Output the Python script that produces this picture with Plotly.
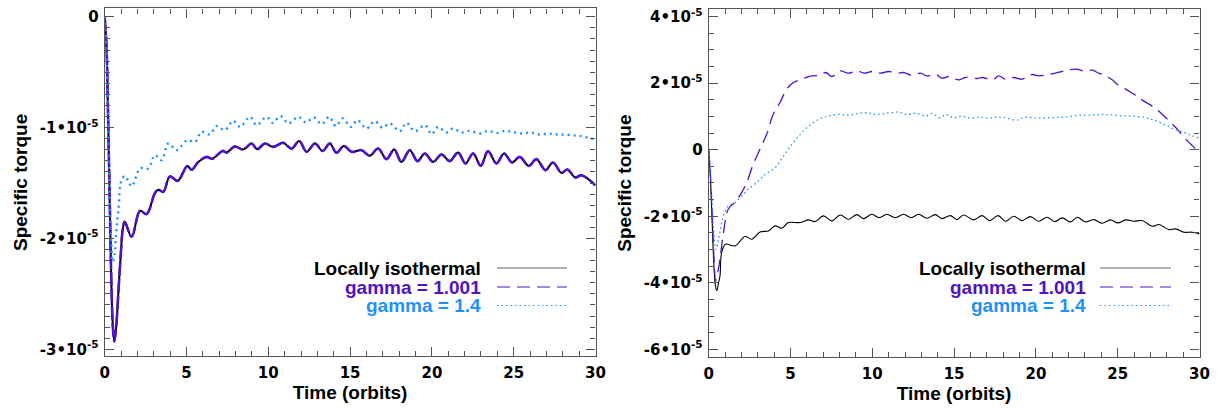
import plotly.graph_objects as go

# Specific torque in units of 1e-5, time in orbits

# left panel
iso_left_t = [0, 0.12, 0.2, 0.3, 0.4, 0.5, 0.59, 0.7, 0.85, 1.0, 1.1, 1.22, 1.65, 2.16, 2.56, 3.07, 3.28, 3.58,
              3.99, 4.46, 5.05, 5.31, 5.72, 6.23, 6.58, 7.21, 7.45, 7.96, 8.47, 8.98, 9.32, 9.79, 10.3, 10.91,
              11.42, 11.89, 12.34, 12.85, 13.32, 13.76, 14.17, 14.62, 15.09, 15.7, 16.2, 16.71, 17.23, 17.69,
              18.14, 18.65, 19.12, 19.57, 20.07, 20.59, 21.09, 21.6, 22.05, 22.52, 22.99, 23.43, 23.95, 24.41,
              24.9, 25.37, 25.92, 26.39, 26.94, 27.4, 27.92, 28.28, 28.77, 29.14, 30.0]
iso_left_y = [0, -0.30, -0.85, -1.6, -2.35, -2.8, -2.93, -2.8, -2.45, -2.1, -1.92, -1.85, -1.985, -1.75, -1.78,
              -1.59, -1.56, -1.58, -1.44, -1.48, -1.345, -1.38, -1.31, -1.264, -1.28, -1.21, -1.225, -1.17,
              -1.197, -1.143, -1.194, -1.143, -1.173, -1.137, -1.19, -1.12, -1.218, -1.143, -1.21, -1.143,
              -1.227, -1.165, -1.218, -1.203, -1.254, -1.188, -1.284, -1.197, -1.309, -1.203, -1.302, -1.233,
              -1.309, -1.242, -1.302, -1.224, -1.323, -1.233, -1.345, -1.212, -1.323, -1.233, -1.314, -1.264,
              -1.345, -1.284, -1.384, -1.314, -1.408, -1.377, -1.45, -1.429, -1.52]

# gamma = 1.001 lies on top of the locally isothermal curve
g1001_left_t = list(iso_left_t)
g1001_left_y = list(iso_left_y)

g14_left_t = [0, 0.1, 0.2, 0.3, 0.4, 0.5, 0.6, 0.7, 0.83, 1.04, 1.24, 1.65, 2.16, 2.66, 3.07, 3.48, 3.89, 4.4,
              5.05, 5.52, 5.92, 6.43, 6.84, 7.35, 7.86, 8.27, 8.88, 9.28, 9.9, 10.26, 10.75, 11.22, 11.83, 12.3,
              12.79, 13.26, 13.72, 14.13, 14.55, 15.05, 15.45, 16.0, 16.51, 16.98, 17.43, 18.04, 18.45, 18.96,
              19.57, 19.98, 20.38, 20.89, 21.3, 21.81, 22.32, 22.93, 23.43, 23.95, 24.46, 24.97, 25.47, 26.08,
              26.59, 27.1, 27.5, 27.9, 28.53, 29.14, 29.75, 30.0]
g14_left_y = [0, -0.3, -0.9, -1.6, -2.05, -2.21, -2.15, -1.95, -1.75, -1.47, -1.437, -1.528, -1.368, -1.368,
              -1.248, -1.293, -1.143, -1.203, -1.113, -1.128, -1.038, -1.06, -0.986, -1.022, -0.938, -0.993,
              -0.903, -0.977, -0.903, -0.957, -0.896, -0.962, -0.903, -0.953, -0.908, -0.968, -0.903, -0.986,
              -0.917, -0.993, -0.932, -1.007, -0.941, -1.0, -0.962, -1.032, -0.957, -1.032, -0.977, -1.059,
              -0.993, -1.044, -1.007, -1.044, -1.029, -1.053, -1.029, -1.047, -1.029, -1.04, -1.053, -1.044,
              -1.062, -1.053, -1.06, -1.062, -1.068, -1.077, -1.098, -1.105]

# right panel
iso_right_t = [0, 0.1, 0.2, 0.3, 0.4, 0.49, 0.6, 0.69, 0.79, 1.02, 1.61, 2.22, 2.63, 3.14, 3.65, 4.06, 4.47,
               4.87, 5.59, 6.1, 6.5, 7.01, 7.53, 8.04, 8.54, 9.06, 9.46, 9.97, 10.42, 10.89, 11.4, 11.91, 12.38,
               12.83, 13.34, 13.85, 14.26, 14.77, 15.18, 15.58, 16.2, 16.71, 17.17, 17.69, 18.14, 18.64, 19.15,
               19.66, 20.17, 20.68, 21.15, 21.61, 22.12, 22.52, 23.03, 23.54, 24.05, 24.56, 25.01, 25.48, 25.99,
               26.5, 27.11, 27.52, 28.13, 28.54, 29.05, 29.56, 30.0]
iso_right_y = [0, -0.8, -2.0, -3.3, -4.05, -4.24, -4.0, -3.79, -3.09, -2.84, -2.89, -2.61, -2.69, -2.47, -2.44,
               -2.29, -2.36, -2.19, -2.19, -2.11, -2.16, -1.99, -2.14, -1.96, -2.09, -1.95, -2.07, -1.94, -2.04,
               -1.94, -2.04, -1.94, -2.04, -1.94, -2.06, -1.95, -2.07, -1.98, -2.1, -1.96, -2.11, -1.98, -2.13,
               -1.98, -2.15, -2.0, -2.13, -2.01, -2.15, -2.03, -2.16, -2.05, -2.17, -2.03, -2.17, -2.1, -2.21,
               -2.11, -2.2, -2.11, -2.15, -2.13, -2.3, -2.25, -2.4, -2.38, -2.48, -2.48, -2.53]

g1001_right_t = [0, 0.1, 0.2, 0.3, 0.43, 0.55, 0.69, 0.89, 1.2, 1.61, 2.02, 2.33, 2.73, 3.14, 3.55, 3.95, 4.36,
                 4.77, 5.18, 5.69, 6.3, 6.81, 7.16, 7.53, 8.04, 8.54, 9.06, 9.52, 9.97, 10.48, 10.99, 11.5, 11.91,
                 12.42, 12.93, 13.34, 13.85, 14.26, 14.72, 15.28, 15.68, 16.4, 16.71, 17.38, 17.72, 18.14, 18.64,
                 19.15, 19.76, 20.17, 20.78, 21.5, 22.01, 22.52, 22.93, 23.44, 23.84, 24.25, 24.66, 24.97, 25.48,
                 26.09, 26.6, 27.11, 27.62, 28.13, 28.64, 29.05, 29.46, 29.87, 30.0]
g1001_right_y = [0, -0.7, -1.8, -3.0, -3.94, -3.7, -3.29, -2.53, -1.78, -1.58, -1.28, -0.98, -0.43, 0.02, 0.47,
                 1.07, 1.42, 1.82, 2.02, 2.12, 2.22, 2.24, 2.32, 2.2, 2.37, 2.3, 2.37, 2.3, 2.35, 2.3, 2.35, 2.3,
                 2.32, 2.24, 2.3, 2.22, 2.27, 2.15, 2.2, 2.1, 2.17, 2.14, 2.17, 2.1, 2.22, 2.12, 2.17, 2.12, 2.26,
                 2.22, 2.26, 2.34, 2.4, 2.42, 2.36, 2.39, 2.3, 2.22, 2.1, 1.97, 1.82, 1.64, 1.46, 1.31, 1.11, 0.87,
                 0.62, 0.37, 0.17, -0.03, -0.08]

g14_right_t = [0, 0.1, 0.2, 0.3, 0.45, 0.6, 0.75, 0.89, 1.2, 1.61, 2.02, 2.42, 3.04, 3.45, 4.06, 4.57, 5.08, 5.59,
               6.1, 6.71, 7.32, 7.93, 8.54, 9.16, 9.67, 10.18, 10.79, 11.6, 12.0, 12.73, 13.24, 13.65, 14.16,
               14.47, 14.97, 15.48, 16.0, 16.5, 17.01, 17.52, 18.03, 18.85, 19.25, 20.07, 20.88, 21.7, 22.52,
               23.34, 24.15, 24.97, 25.78, 26.6, 27.21, 27.82, 28.43, 29.05, 29.56, 30.0]
g14_right_y = [0, -0.6, -1.5, -2.4, -3.0, -2.7, -2.3, -1.99, -1.69, -1.59, -1.39, -1.19, -0.94, -0.74, -0.54,
               -0.19, 0.16, 0.46, 0.71, 0.91, 1.01, 1.06, 1.04, 1.09, 1.11, 1.06, 1.09, 1.13, 1.06, 1.09, 1.01,
               1.09, 0.96, 1.06, 0.96, 1.01, 0.95, 0.98, 0.95, 0.97, 0.97, 0.89, 0.97, 0.95, 0.96, 0.98, 1.03,
               1.04, 1.06, 1.03, 1.01, 0.97, 0.89, 0.77, 0.62, 0.52, 0.42, 0.34]

x_ticks = [0, 5, 10, 15, 20, 25, 30]
left_yticks = [0, -1, -2, -3]
right_yticks = [4, 2, 0, -2, -4, -6]

BLACK = "#000000"
PURPLE = "#4F12C4"
BLUE = "#1E90FF"
FONT = "Liberation Sans"


def tick_label(v):
    return "0" if v == 0 else f"{v}\u202210<sup>-5</sup>"


fig = go.Figure()

# left panel traces
fig.add_trace(go.Scatter(x=iso_left_t, y=iso_left_y, mode="lines", line=dict(color=BLACK, width=2, shape="spline"),
                         xaxis="x", yaxis="y"))
fig.add_trace(go.Scatter(x=g1001_left_t, y=g1001_left_y, mode="lines",
                         line=dict(color=PURPLE, width=2.6, dash="14px,3px", shape="spline"), xaxis="x", yaxis="y"))
fig.add_trace(go.Scatter(x=g14_left_t, y=g14_left_y, mode="lines",
                         line=dict(color=BLUE, width=2.4, dash="2px,4px", shape="spline"), xaxis="x", yaxis="y"))

# right panel traces
fig.add_trace(go.Scatter(x=iso_right_t, y=iso_right_y, mode="lines",
                         line=dict(color=BLACK, width=1.1, shape="spline"), xaxis="x2", yaxis="y2"))
fig.add_trace(go.Scatter(x=g1001_right_t, y=g1001_right_y, mode="lines",
                         line=dict(color=PURPLE, width=1.3, dash="13px,7px", shape="spline"), xaxis="x2", yaxis="y2"))
fig.add_trace(go.Scatter(x=g14_right_t, y=g14_right_y, mode="lines",
                         line=dict(color=BLUE, width=1.3, dash="1.5px,3px", shape="spline"), xaxis="x2", yaxis="y2"))

W, H = 1217, 412
TICK_FONT = dict(family="DejaVu Sans", size=15, color="black", weight="bold")
TITLE_FONT = dict(family=FONT, size=19, color="black", weight="bold")

axis_common = dict(
    ticks="inside", mirror="ticks", showline=True, linecolor="#555555", linewidth=1.2,
    tickcolor="#555555", ticklen=9, tickwidth=1, showgrid=False, zeroline=False,
    tickfont=TICK_FONT, automargin=False,
)

xa = dict(axis_common, range=[0, 30], tickmode="array", tickvals=x_ticks, ticktext=[str(v) for v in x_ticks],
          minor=dict(ticks="inside", ticklen=5, dtick=1, tick0=0, tickcolor="#555555"),
          ticklabelstandoff=3,
          title=dict(text="Time (orbits)", font=TITLE_FONT, standoff=2))

fig.update_layout(
    width=W, height=H, autosize=False,
    margin=dict(l=0, r=0, t=0, b=0),
    paper_bgcolor="white", plot_bgcolor="white",
    showlegend=False,
    xaxis=dict(xa, domain=[104.7 / W, 595.5 / W], anchor="y"),
    xaxis2=dict(xa, domain=[708.7 / W, 1199.5 / W], anchor="y2"),
    yaxis=dict(axis_common, domain=[1 - 356.3 / H, 1 - 8.4 / H], anchor="x",
               range=[-3.063, 0.076], tickmode="array", tickvals=left_yticks,
               ticktext=[tick_label(v) for v in left_yticks],
               minor=dict(ticks="inside", ticklen=5, dtick=0.1, tick0=0, tickcolor="#555555"),
               ticklabelstandoff=2,
               title=dict(text="Specific torque", font=TITLE_FONT, standoff=7)),
    yaxis2=dict(axis_common, domain=[1 - 357 / H, 1 - 9.3 / H], anchor="x2",
                range=[-6.23, 4.22], tickmode="array", tickvals=right_yticks,
                ticktext=[tick_label(v) for v in right_yticks],
                minor=dict(ticks="inside", ticklen=5, dtick=0.5, tick0=0, tickcolor="#555555"),
                ticklabelstandoff=2,
                title=dict(text="Specific torque", font=TITLE_FONT, standoff=7)),
)

# legends drawn inside each panel: right-aligned label, then a line sample
legend_rows = [("Locally isothermal", BLACK, "solid"), ("gamma = 1.001", PURPLE, "13px,7px"),
               ("gamma = 1.4", BLUE, "1.5px,3px")]
row_y = [268, 287, 305.5]
for text_right, line_x0, line_x1 in [(483, 497, 567), (1088, 1100, 1171)]:
    for (label, color, dash), yy in zip(legend_rows, row_y):
        fig.add_annotation(xref="paper", yref="paper", x=text_right / W, y=1 - yy / H, text=label,
                           showarrow=False, xanchor="right", yanchor="middle",
                           font=dict(family=FONT, size=19, color=color, weight="bold"))
        fig.add_shape(type="line", xref="paper", yref="paper", x0=line_x0 / W, x1=line_x1 / W,
                      y0=1 - yy / H, y1=1 - yy / H,
                      line=dict(color="#666666" if color == BLACK else color, width=1, dash=dash))

# drop the browser's default body margin so the figure sits at the page corner
fig.write_html("out.html", config={"displayModeBar": False},
               post_script="document.body.style.margin = '0';")
